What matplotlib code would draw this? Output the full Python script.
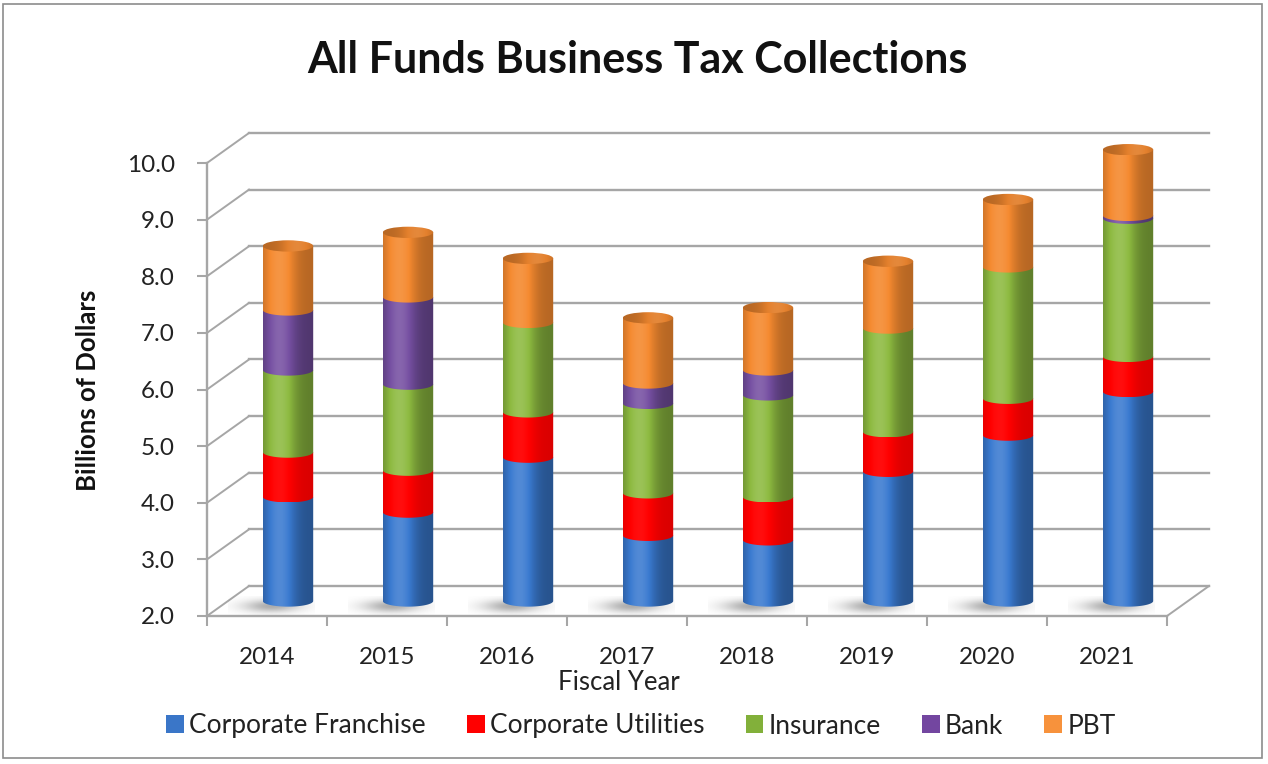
import numpy as np
import matplotlib.pyplot as plt
from matplotlib.patches import Patch, PathPatch, Ellipse, Rectangle
from matplotlib.path import Path
from matplotlib.colors import to_rgb

# business tax collections by fiscal year, billions of dollars
years = ["2014", "2015", "2016", "2017", "2018", "2019", "2020", "2021"]
corp_franchise = [3.84, 3.57, 4.54, 3.16, 3.08, 4.29, 4.93, 5.70]
corp_utilities = [0.79, 0.74, 0.80, 0.75, 0.76, 0.70, 0.65, 0.62]
insurance = [1.45, 1.52, 1.58, 1.58, 1.80, 1.83, 2.32, 2.44]
bank = [1.06, 1.54, 0.00, 0.36, 0.44, 0.00, 0.00, 0.05]
pbt = [1.13, 1.14, 1.13, 1.15, 1.10, 1.18, 1.19, 1.16]

series_names = ["Corporate Franchise", "Corporate Utilities", "Insurance", "Bank", "PBT"]
series_vals = [corp_franchise, corp_utilities, insurance, bank, pbt]
series_colors = ["#3A7AD0", "#FF0000", "#8DBA40", "#7650A2", "#F58A30"]
legend_colors = ["#3A76C8", "#FF0000", "#82B03A", "#7346A0", "#F7923C"]

y_min, y_max = 2.0, 10.0
plt.rcParams['font.family'] = ['Lato', 'DejaVu Sans']

fig = plt.figure(figsize=(12.68, 7.64), dpi=100)
ax = fig.add_axes([207 / 1268, 148 / 764, 960 / 1268, 453 / 764])
ax.patch.set_visible(False)

# depth offset of the back wall (data units) and cylinder size
DX, DY = 0.35, 0.53
HW, EH = 0.21, 0.10
grid_c = "#A6A6A6"
n_cat = len(years)

# back wall gridlines and the left wall connectors
for v in np.arange(y_min, y_max + 0.5, 1.0):
    ax.plot([DX, n_cat + DX], [v + DY, v + DY], color=grid_c, lw=1.7, zorder=1, clip_on=False)
    ax.plot([0, DX], [v, v + DY], color=grid_c, lw=1.4, zorder=1, clip_on=False)
# right edge of the floor
ax.plot([n_cat, n_cat + DX], [y_min, y_min + DY], color=grid_c, lw=1.4, zorder=1, clip_on=False)


def shade(color, strength=1.0, n=80):
    u = np.linspace(-1, 1, n)
    f = 1 + strength * (-0.32 + 0.47 * np.exp(-((u + 0.35) / 0.6) ** 2))
    c = np.array(to_rgb(color))
    f = f[:, None]
    out = np.where(f > 1, c + (1 - c) * (f - 1) * 0.8, c * f)
    return np.clip(out, 0, 1)[None, :, :]


def clipped_image(img, extent, clip, z):
    im = ax.imshow(img, extent=extent, aspect="auto", interpolation="bilinear", zorder=z)
    im.set_clip_path(clip)
    im.set_clip_box(fig.bbox)
    return im


def draw_segment(xc, y0, y1, color, z, strength):
    t = np.linspace(np.pi, 2 * np.pi, 50)
    verts = [(xc + HW * np.cos(a), y0 + EH * np.sin(a)) for a in t]
    verts += [(xc + HW, y1), (xc - HW, y1), verts[0]]
    clip = PathPatch(Path(verts, closed=True), transform=ax.transData)
    clipped_image(shade(color, strength), (xc - HW, xc + HW, y0 - EH, y1), clip, z)


def draw_cap(xc, yt, color, z):
    clip = Ellipse((xc, yt), 2 * HW, 2 * EH, transform=ax.transData)
    img = shade(color, 0.6) * 0.93
    clipped_image(img[:, ::-1], (xc - HW, xc + HW, yt - EH, yt + EH), clip, z)


def draw_shadow(xc, yb):
    gx = np.linspace(-1, 1, 80)
    gy = np.linspace(-1, 1, 40)
    X, Y = np.meshgrid(gx, gy)
    img = np.zeros((40, 80, 4))
    img[..., :3] = 0.35
    img[..., 3] = 0.5 * np.exp(-(X ** 2 + Y ** 2) * 2.4)
    ax.imshow(img, extent=(xc - 0.48, xc + 0.24, yb - 0.24, yb + 0.10), origin="lower",
              aspect="auto", interpolation="bilinear", zorder=2)


strengths = [1.0, 0.45, 1.0, 1.0, 0.8]
for i in range(n_cat):
    xc = i + 0.5 + DX / 2
    draw_shadow(xc - 0.02, y_min + DY / 2 - 0.02)
    bottom = 0.0
    z = 3
    top_color = None
    for vals, color, s in zip(series_vals, series_colors, strengths):
        v = vals[i]
        if v <= 0:
            continue
        lo = max(bottom, y_min) + DY / 2
        hi = bottom + v + DY / 2
        draw_segment(xc, lo, hi, color, z, s)
        bottom += v
        z += 0.1
        top_color = color
    draw_cap(xc, bottom + DY / 2, top_color, z)

ax.set_xlim(0, n_cat)
ax.set_ylim(y_min, y_max)

for side in ["top", "right"]:
    ax.spines[side].set_visible(False)
for side in ["left", "bottom"]:
    ax.spines[side].set_color(grid_c)
    ax.spines[side].set_linewidth(1.7)

ax.set_yticks(np.arange(y_min, y_max + 0.5, 1.0))
ax.set_yticklabels([f"{v:.1f}" for v in np.arange(y_min, y_max + 0.5, 1.0)])
ax.tick_params(axis="y", length=7, width=1.5, color=grid_c, labelsize=17.5, pad=16,
               labelcolor="#222222")
ax.set_xticks(range(n_cat + 1))
ax.set_xticklabels([])
ax.set_xticks(np.arange(n_cat) + 0.5, minor=True)
ax.set_xticklabels(years, minor=True)
ax.tick_params(axis="x", which="major", length=7, width=1.5, color=grid_c)
ax.tick_params(axis="x", which="minor", length=0, labelsize=17.5, pad=22, labelcolor="#222222")

fig.text(637 / 1268, 1 - 60 / 764, "All Funds Business Tax Collections", ha="center",
         va="center", fontsize=31, fontweight="bold", color="#111111")
fig.text(88 / 1268, 1 - 390 / 764, "Billions of Dollars", rotation=90, ha="center",
         va="center", fontsize=18.5, fontweight="bold", color="#111111")
fig.text(619 / 1268, 1 - 683 / 764, "Fiscal Year", ha="center", va="center",
         fontsize=18.5, color="#222222")

handles = [Patch(facecolor=c, edgecolor="none") for c in legend_colors]
fig.legend(handles, series_names, loc="center", bbox_to_anchor=(641 / 1268, 1 - 726 / 764),
           ncol=5, frameon=False, fontsize=19, handlelength=0.68, handleheight=0.68,
           handletextpad=0.2, columnspacing=1.55, labelcolor="#222222")

fig.patches.append(Rectangle((3 / 1268, 6 / 764), 1259 / 1268, 754 / 764,
                             transform=fig.transFigure, fill=False, ec="#8C8C8C", lw=1.2))

fig.savefig("out.png", dpi=100)
